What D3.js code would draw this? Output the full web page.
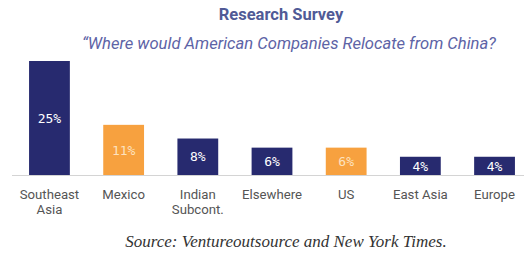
<!DOCTYPE html>
<html>
<head>
<meta charset="utf-8">
<script src="https://cdn.jsdelivr.net/npm/d3@7"></script>
<style>
  html, body { margin: 0; padding: 0; background: #fff; }
  svg { display: block; }
</style>
</head>
<body>
<svg id="chart"></svg>
<script>
const categories = ['Southeast\nAsia', 'Mexico', 'Indian\nSubcont.', 'Elsewhere', 'US', 'East Asia', 'Europe'];
const values = [25, 11, 8, 6, 6, 4, 4];
const highlight = [false, true, false, false, true, false, false];
const labels = ['25%', '11%', '8%', '6%', '6%', '4%', '4%'];

const width = 524;
const height = 254;
const navy = '#272a6f';
const orange = '#f7a13f';

const svg = d3.select('#chart').attr('width', width).attr('height', height);

const x = d3.scaleBand()
  .domain(categories)
  .range([12, 532])
  .paddingInner(0.45)
  .paddingOuter(0.23);

const y = d3.scaleLinear().domain([0, 25]).range([175, 61]);

// title block
svg.append('text')
  .attr('x', 281).attr('y', 20)
  .attr('text-anchor', 'middle')
  .attr('font-family', 'Roboto, sans-serif')
  .attr('font-weight', 700)
  .attr('font-size', 16.5)
  .attr('fill', '#505a96')
  .text('Research Survey');

svg.append('text')
  .attr('x', 82).attr('y', 49)
  .attr('font-family', 'Roboto, sans-serif')
  .attr('font-style', 'italic')
  .attr('font-size', 16.6)
  .attr('fill', '#5d63a6')
  .text('\u201cWhere would American Companies Relocate from China?');

// baseline
svg.append('line')
  .attr('x1', 12).attr('x2', width)
  .attr('y1', y(0) + 0.5).attr('y2', y(0) + 0.5)
  .attr('stroke', '#d4d4d4');

svg.append('g').selectAll('rect')
  .data(values)
  .join('rect')
  .attr('x', (d, i) => x(categories[i]))
  .attr('width', x.bandwidth())
  .attr('y', (d) => y(d))
  .attr('height', (d) => y(0) - y(d))
  .attr('fill', (d, i) => highlight[i] ? orange : navy);

svg.append('g').selectAll('text')
  .data(values)
  .join('text')
  .attr('x', (d, i) => x(categories[i]) + x.bandwidth() / 2)
  .attr('y', (d) => (y(d) + y(0)) / 2)
  .attr('dy', '0.36em')
  .attr('text-anchor', 'middle')
  .attr('font-family', '"DejaVu Sans Mono", monospace')
  .attr('font-size', 13)
  .attr('fill', (d, i) => highlight[i] ? '#fde2bf' : '#fff')
  .text((d, i) => labels[i]);

// category labels, one text per line
const lines = categories.flatMap((c) => c.split('\n').map((t, k) => ({ c, t, k })));

svg.append('g').selectAll('text')
  .data(lines)
  .join('text')
  .attr('x', (d) => x(d.c) + x.bandwidth() / 2)
  .attr('y', (d) => 199 + d.k * 14.5)
  .attr('text-anchor', 'middle')
  .attr('font-family', 'Roboto, sans-serif')
  .attr('font-size', 13.2)
  .attr('fill', '#555')
  .text((d) => d.t);

svg.append('text')
  .attr('x', 286).attr('y', 247)
  .attr('text-anchor', 'middle')
  .attr('font-family', '"Liberation Serif", serif')
  .attr('font-style', 'italic')
  .attr('font-size', 17)
  .attr('fill', '#333')
  .text('Source: Ventureoutsource and New York Times.');
</script>
</body>
</html>
